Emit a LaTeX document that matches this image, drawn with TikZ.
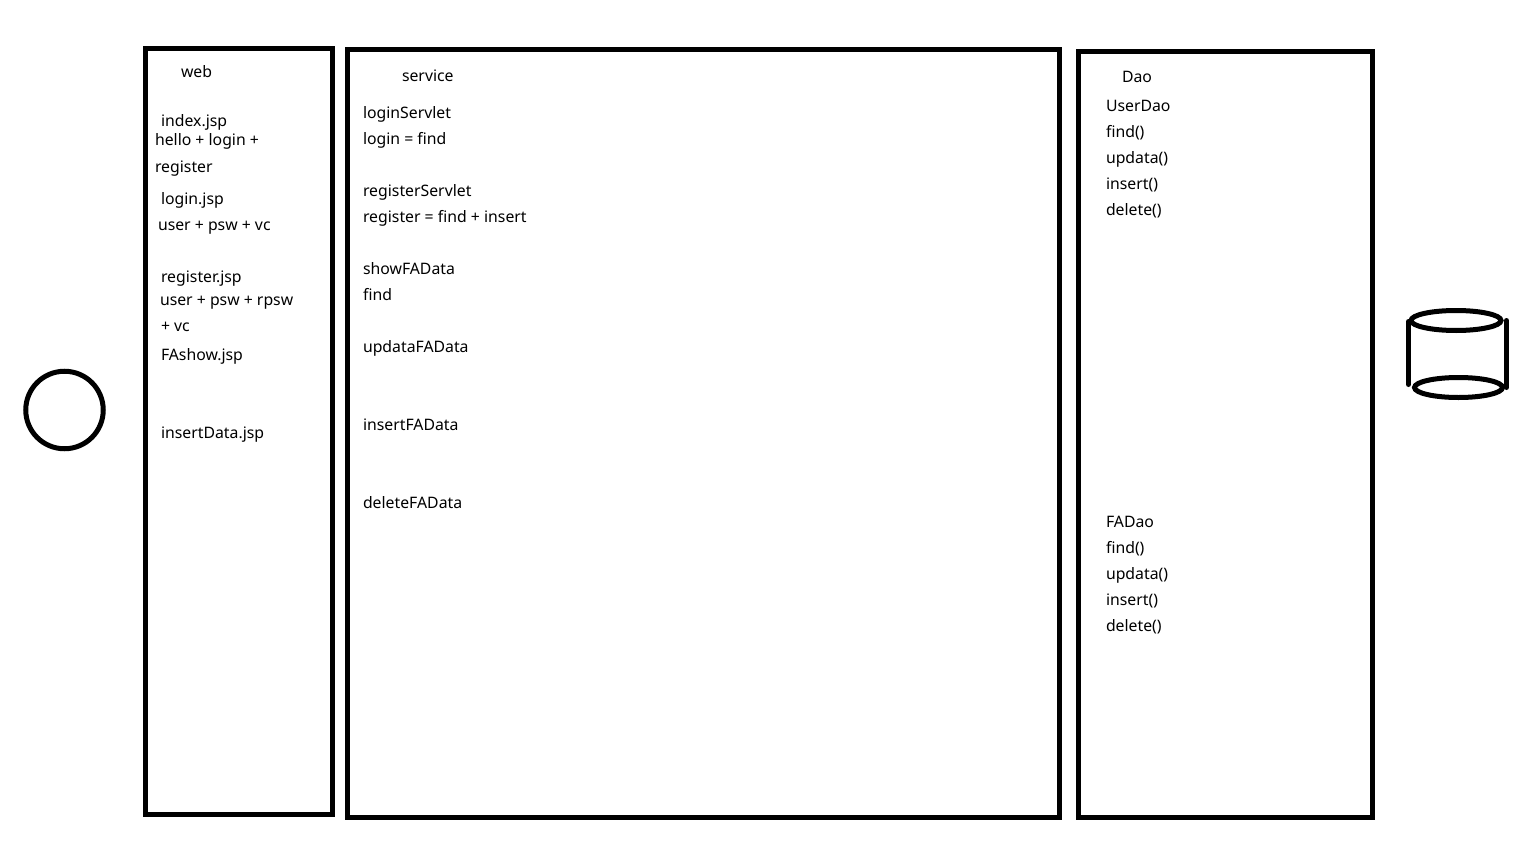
\documentclass[tikz,border=0pt]{standalone}
\usepackage{fontspec}
\setmainfont{Noto Sans}
\tikzset{
  x=1pt,y=-1pt,
  panel/.style={draw=black,line width=5pt,fill=white},
  sketch/.style={draw=black,line width=5pt,line cap=round},
  lbl/.style={anchor=base west,inner sep=0pt,outer sep=0pt,text=black,font=\fontsize{15.8}{18}\selectfont},
}
\begin{document}
\begin{tikzpicture}
\useasboundingbox (0,0) rectangle (1536,864);
\fill[white] (0,0) rectangle (1536,864);
\draw[panel] (145.5,48.5) rectangle (332.5,814.5);
\draw[panel] (347.5,49.5) rectangle (1059.5,817.5);
\draw[panel] (1078.5,51.5) rectangle (1372.5,817.5);
\node[sketch,circle,minimum size=77.5pt,inner sep=0pt] (user) at (64.5,410) {};
% database
\draw[sketch] (1456,320.5) ellipse [x radius=45,y radius=10];
\draw[sketch] (1458.5,387.5) ellipse [x radius=44,y radius=10];
\coordinate (dbtl) at (1408.5,321.5);
\coordinate (dbbl) at (1408.5,384.5);
\coordinate (dbtr) at (1506.5,320.5);
\coordinate (dbbr) at (1506.5,387.5);
\draw[sketch] (dbtl) -- (dbbl);
\draw[sketch] (dbtr) -- (dbbr);
% web
\node[lbl] (w0) at (181,78) {web};
\node[lbl] (w1) at (161,127) {index.jsp};
\node[lbl] (w2) at (155,146) {hello + login +};
\node[lbl] (w3) at (155,172) {register};
\node[lbl] (w4) at (161,204) {login.jsp};
\node[lbl] (w5) at (158,230) {user + psw + vc};
\node[lbl] (w6) at (161,282) {register.jsp};
\node[lbl] (w7) at (160,305) {user + psw + rpsw};
\node[lbl] (w8) at (161,331) {+ vc};
\node[lbl] (w9) at (161,360) {FAshow.jsp};
\node[lbl] (w10) at (161,438) {insertData.jsp};
% service
\node[lbl] (s0) at (402,82) {service};
\node[lbl] (s1) at (363,119) {loginServlet};
\node[lbl] (s2) at (363,144) {login = find};
\node[lbl] (s3) at (363,196) {registerServlet};
\node[lbl] (s4) at (363,222) {register = find + insert};
\node[lbl] (s5) at (363,274) {showFAData};
\node[lbl] (s6) at (363,300) {find};
\node[lbl] (s7) at (363,352) {updataFAData};
\node[lbl] (s8) at (363,430) {insertFAData};
\node[lbl] (s9) at (363,508) {deleteFAData};
% dao
\node[lbl] (d0) at (1122,83) {Dao};
\node[lbl] (d1) at (1106,112) {UserDao};
\node[lbl] (d2) at (1106,138) {find()};
\node[lbl] (d3) at (1106,163) {updata()};
\node[lbl] (d4) at (1106,189) {insert()};
\node[lbl] (d5) at (1106,215) {delete()};
\node[lbl] (f1) at (1106,527) {FADao};
\node[lbl] (f2) at (1106,553) {find()};
\node[lbl] (f3) at (1106,579) {updata()};
\node[lbl] (f4) at (1106,605) {insert()};
\node[lbl] (f5) at (1106,631) {delete()};
\end{tikzpicture}
\end{document}
